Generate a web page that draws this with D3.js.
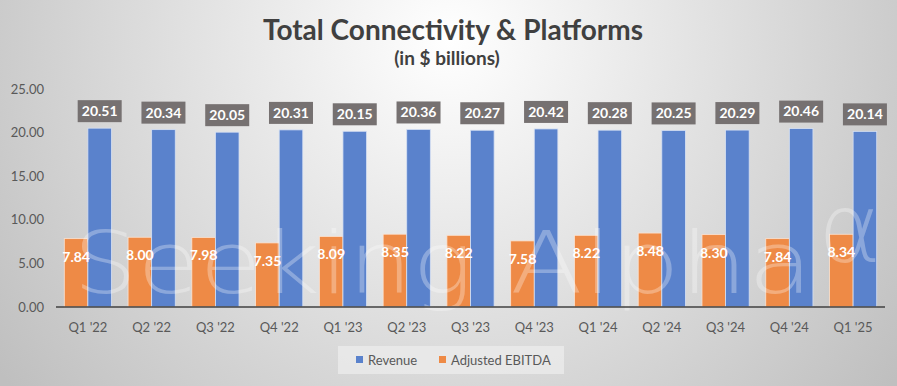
<!DOCTYPE html>
<html>
<head>
<meta charset="utf-8">
<script src="https://cdn.jsdelivr.net/npm/d3@7"></script>
<style>
    body { margin: 0; padding: 0; overflow: hidden; }
    svg { display: block; }
</style>
</head>
<body>
<div id="chart"></div>
<script>
// quarters along the x axis
var QUARTERS = ["Q1 '22", "Q2 '22", "Q3 '22", "Q4 '22", "Q1 '23", "Q2 '23", "Q3 '23",
                "Q4 '23", "Q1 '24", "Q2 '24", "Q3 '24", "Q4 '24", "Q1 '25"];
// revenue, $ billions
var REVENUE = [20.51, 20.34, 20.05, 20.31, 20.15, 20.36, 20.27, 20.42, 20.28, 20.25, 20.29, 20.46, 20.14];
// adjusted EBITDA, $ billions
var EBITDA = [7.84, 8.00, 7.98, 7.35, 8.09, 8.35, 8.22, 7.58, 8.22, 8.48, 8.30, 7.84, 8.34];
var Y_TICKS = [0, 5, 10, 15, 20, 25];

var WIDTH = 897, HEIGHT = 386;
var BLUE = '#5a82cc', ORANGE = '#ee8a46';
var FONT = "Lato, 'Open Sans', sans-serif";

var svg = d3.select('#chart').append('svg')
    .attr('width', WIDTH)
    .attr('height', HEIGHT);

// background, excel style radial fill
var defs = svg.append('defs');
var grad = defs.append('radialGradient')
    .attr('id', 'bg')
    .attr('gradientUnits', 'userSpaceOnUse')
    .attr('cx', 450).attr('cy', 40).attr('r', 560);
grad.append('stop').attr('offset', '0%').attr('stop-color', '#ffffff');
grad.append('stop').attr('offset', '100%').attr('stop-color', '#bfbfbf');

svg.append('rect')
    .attr('width', WIDTH).attr('height', HEIGHT)
    .attr('fill', 'url(#bg)');

// title
svg.append('text')
    .attr('x', 453).attr('y', 40)
    .attr('text-anchor', 'middle')
    .attr('font-family', FONT)
    .attr('font-weight', 'bold')
    .attr('font-size', 28)
    .attr('fill', '#404040')
    .text('Total Connectivity & Platforms');
svg.append('text')
    .attr('x', 447).attr('y', 65)
    .attr('text-anchor', 'middle')
    .attr('font-family', FONT)
    .attr('font-weight', 'bold')
    .attr('font-size', 19)
    .attr('fill', '#404040')
    .text('(in $ billions)');

// scales
var x = d3.scaleBand()
    .domain(QUARTERS)
    .range([56, 885])
    .paddingInner(0.26)
    .paddingOuter(0.13);
var x1 = d3.scaleBand()
    .domain(['ebitda', 'revenue'])
    .range([0, x.bandwidth()]);
var y = d3.scaleLinear()
    .domain([0, 25])
    .range([307, 89]);

// y axis labels (no line)
svg.append('g').selectAll('text')
    .data(Y_TICKS)
    .enter().append('text')
    .attr('x', 44)
    .attr('y', function(d) { return y(d); })
    .attr('dy', '0.35em')
    .attr('text-anchor', 'end')
    .attr('font-family', FONT)
    .attr('font-size', 13)
    .attr('fill', '#595959')
    .text(function(d) { return d3.format('.2f')(d); });

// bars
var groups = svg.append('g').selectAll('g')
    .data(QUARTERS)
    .enter().append('g')
    .attr('transform', function(d) { return 'translate(' + x(d) + ',0)'; });

groups.append('rect')
    .attr('x', x1('ebitda'))
    .attr('y', function(d, i) { return y(EBITDA[i]); })
    .attr('width', x1.bandwidth())
    .attr('height', function(d, i) { return y(0) - y(EBITDA[i]); })
    .attr('fill', ORANGE)
    .attr('stroke', '#fbe3d2')
    .attr('stroke-width', 0.8);

groups.append('rect')
    .attr('x', x1('revenue'))
    .attr('y', function(d, i) { return y(REVENUE[i]); })
    .attr('width', x1.bandwidth())
    .attr('height', function(d, i) { return y(0) - y(REVENUE[i]); })
    .attr('fill', BLUE)
    .attr('stroke', '#d6e0f3')
    .attr('stroke-width', 0.8);

// watermark, drawn over the bars like the original
var wm = svg.append('g')
    .attr('fill', '#ffffff')
    .attr('fill-opacity', 0.3)
    .attr('font-family', "'DejaVu Sans', sans-serif")
    .attr('font-weight', 200)
    .attr('font-size', 86);
wm.append('text')
    .attr('x', 73).attr('y', 293)
    .attr('textLength', 400)
    .attr('lengthAdjust', 'spacingAndGlyphs')
    .text('Seeking');
wm.append('text')
    .attr('x', 510).attr('y', 293)
    .attr('textLength', 303)
    .attr('lengthAdjust', 'spacingAndGlyphs')
    .text('Alpha');
wm.append('text')
    .attr('x', 818).attr('y', 262)
    .attr('font-size', 96)
    .text('\u03b1');

// revenue labels in dark boxes
groups.append('rect')
    .attr('x', x1('revenue') + x1.bandwidth() / 2 - 22)
    .attr('y', function(d, i) { return y(REVENUE[i]) - 28; })
    .attr('width', 44)
    .attr('height', 22)
    .attr('fill', '#767171');
groups.append('text')
    .attr('x', x1('revenue') + x1.bandwidth() / 2)
    .attr('y', function(d, i) { return y(REVENUE[i]) - 17; })
    .attr('dy', '0.35em')
    .attr('text-anchor', 'middle')
    .attr('font-family', FONT)
    .attr('font-weight', 'bold')
    .attr('font-size', 14)
    .attr('fill', '#ffffff')
    .text(function(d, i) { return d3.format('.2f')(REVENUE[i]); });

// ebitda labels inside the bar
groups.append('text')
    .attr('x', x1('ebitda') + x1.bandwidth() / 2)
    .attr('y', function(d, i) { return y(EBITDA[i]) + 18; })
    .attr('dy', '0.35em')
    .attr('text-anchor', 'middle')
    .attr('font-family', FONT)
    .attr('font-weight', 'bold')
    .attr('font-size', 14)
    .attr('fill', '#ffffff')
    .text(function(d, i) { return d3.format('.2f')(EBITDA[i]); });

// baseline
svg.append('line')
    .attr('x1', 56).attr('x2', 885)
    .attr('y1', y(0)).attr('y2', y(0))
    .attr('stroke', '#404040')
    .attr('stroke-width', 1.5);

// x labels
svg.append('g').selectAll('text')
    .data(QUARTERS)
    .enter().append('text')
    .attr('x', function(d) { return x(d) + x.bandwidth() / 2; })
    .attr('y', 327)
    .attr('dy', '0.35em')
    .attr('text-anchor', 'middle')
    .attr('font-family', FONT)
    .attr('font-size', 13)
    .attr('fill', '#595959')
    .text(function(d) { return d; });

// legend
var legend = svg.append('g');
legend.append('rect')
    .attr('x', 338).attr('y', 346)
    .attr('width', 226).attr('height', 28)
    .attr('fill', '#ebebeb')
    .attr('fill-opacity', 0.8);
var items = [{ name: 'Revenue', color: BLUE, x: 356 }, { name: 'Adjusted EBITDA', color: ORANGE, x: 439 }];
items.forEach(function(it) {
    legend.append('rect')
        .attr('x', it.x).attr('y', 356)
        .attr('width', 7).attr('height', 7)
        .attr('fill', it.color);
    legend.append('text')
        .attr('x', it.x + 12).attr('y', 360)
        .attr('dy', '0.35em')
        .attr('font-family', FONT)
        .attr('font-size', 13)
        .attr('fill', '#595959')
        .text(it.name);
});
</script>
</body>
</html>
